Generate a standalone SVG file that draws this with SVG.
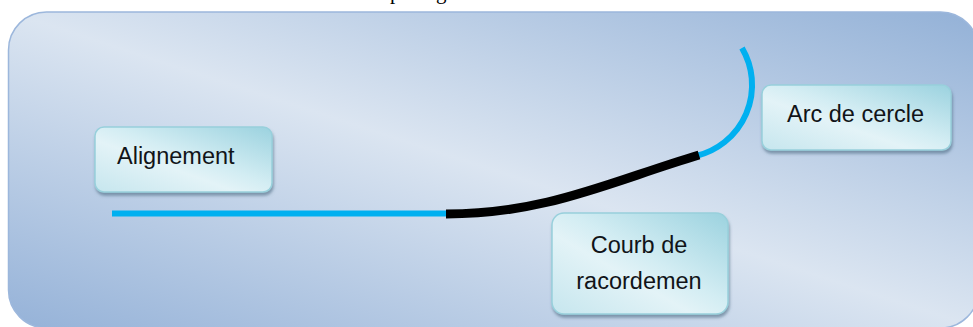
<svg xmlns="http://www.w3.org/2000/svg" width="973" height="327" viewBox="0 0 973 327">
  <defs>
    <linearGradient id="bg" x1="1" y1="0" x2="0" y2="1">
      <stop offset="0" stop-color="#93b1d7"/>
      <stop offset="0.5" stop-color="#dbe5f1"/>
      <stop offset="1" stop-color="#95b2d8"/>
    </linearGradient>
    <linearGradient id="box" x1="1" y1="0" x2="0" y2="1">
      <stop offset="0" stop-color="#9bd2df"/>
      <stop offset="0.45" stop-color="#d3edf3"/>
      <stop offset="0.6" stop-color="#e3f3f7"/>
      <stop offset="1" stop-color="#c6e6ee"/>
    </linearGradient>
    <filter id="sh" x="-10%" y="-10%" width="130%" height="140%">
      <feDropShadow dx="1" dy="3" stdDeviation="1.5" flood-color="#3f5f78" flood-opacity="0.55"/>
    </filter>
    <style>
      .box { fill: url(#box); stroke: #98d0dc; stroke-width: 1.5; filter: url(#sh); }
      .lbl { font-family: "Liberation Sans", Arial, sans-serif; font-size: 23.5px; fill: #111418; }
      .cyan { fill: none; stroke: #00b0f0; stroke-width: 6; }
      .black { fill: none; stroke: #000000; stroke-width: 9; }
      .top { font-family: "Liberation Serif", "Times New Roman", serif; font-size: 21px; fill: #000; }
    </style>
  </defs>

  <rect x="0" y="0" width="973" height="327" fill="#ffffff"/>
  <text class="top" y="-1"><tspan x="390">p</tspan><tspan x="436">g</tspan></text>

  <rect id="background" x="8.5" y="12" width="970" height="316" rx="38" ry="38" fill="url(#bg)" stroke="#9cb7dc" stroke-width="1.5"/>

  <g id="connectors">
    <path class="cyan" d="M112,213.5 L452,213.5"/>
    <path class="cyan" d="M696,156 A73,73 0 0 0 742,48"/>
    <path class="black" d="M446,214 C546,214 609,182 699,155"/>
  </g>

  <g id="alignement">
    <rect class="box" x="95" y="127" width="177" height="65" rx="9"/>
    <text class="lbl" x="117" y="164">Alignement</text>
  </g>

  <g id="arc-de-cercle">
    <rect class="box" x="762" y="85" width="189" height="65" rx="9"/>
    <text class="lbl" x="787" y="122">Arc de cercle</text>
  </g>

  <g id="courb-de-racordemen">
    <rect class="box" x="552" y="213" width="176" height="101" rx="12"/>
    <text class="lbl" x="639" y="253" text-anchor="middle">Courb de</text>
    <text class="lbl" x="639" y="289" text-anchor="middle">racordemen</text>
  </g>
</svg>
